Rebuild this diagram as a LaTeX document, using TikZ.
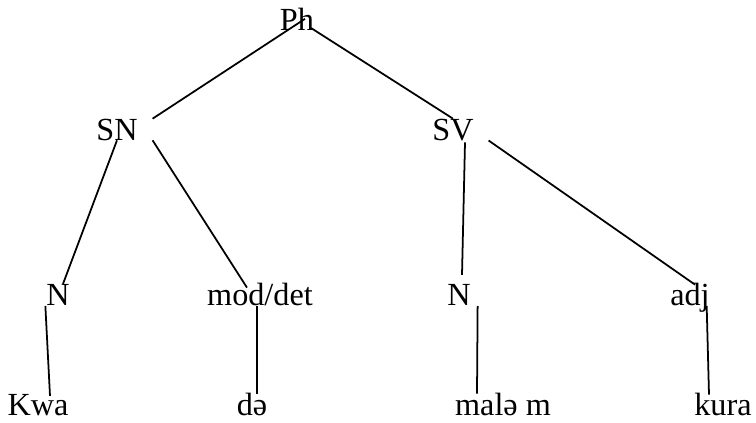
\documentclass[tikz,border=0pt]{standalone}
\usepackage{fontspec}
\setmainfont{Liberation Serif}
\usepackage{tikz}
\usetikzlibrary{calc,positioning}
\tikzset{
  cat/.style={inner sep=0pt,outer sep=0pt,anchor=base,font=\fontsize{27.5}{33}\selectfont},
  branch/.style={black,line width=1.5pt}
}

\begin{document}
\begin{tikzpicture}[x=0.03cm,y=-0.03cm]
\useasboundingbox (0,0) rectangle (756,423);
\node[cat] (Ph) at (297,31) {Ph};
\node[cat] (SN) at (117,140) {SN};
\node[cat] (SV) at (453,140) {SV};
\node[cat] (Nl) at (58,305) {N};
\node[cat] (moddet) at (260,305) {mod/det};
\node[cat] (Nr) at (459,305) {N};
\node[cat] (adj) at (690,305) {adj};
\node[cat] (Kwa) at (38,415) {Kwa};
\node[cat] (de) at (252,415) {də};
\node[cat] (malem) at (503,415) {malə m};
\node[cat] (kura) at (723,415) {kura};
\draw[branch] ([shift={(8,-1)}]Ph.center) -- ([shift={(15,0)}]SN.north east);
\draw[branch] ([shift={(-3,-3)}]Ph.south east) -- (SV.north);
\draw[branch] (SN.south) -- ([shift={(5,0)}]Nl.north);
\draw[branch] ([shift={(15,0)}]SN.south east) -- ([shift={(-13,5)}]moddet.north);
\draw[branch] ([shift={(12,2)}]SV.south) -- ([shift={(3,-9)}]Nr.north);
\draw[branch] ([shift={(15,0)}]SV.south east) -- ([shift={(5,2)}]adj.north);
\draw[branch] ([shift={(-1,1)}]Nl.south west) -- ([shift={(12,2)}]Kwa.north);
\draw[branch] ([shift={(-3,1)}]moddet.south) -- ([shift={(5,1)}]de.north);
\draw[branch] ([shift={(7,1)}]Nr.south east) -- ([shift={(-26,1)}]malem.north);
\draw[branch] ([shift={(-3,1)}]adj.base east) -- ([shift={(-14,2)}]kura.north);
\end{tikzpicture}
\end{document}
